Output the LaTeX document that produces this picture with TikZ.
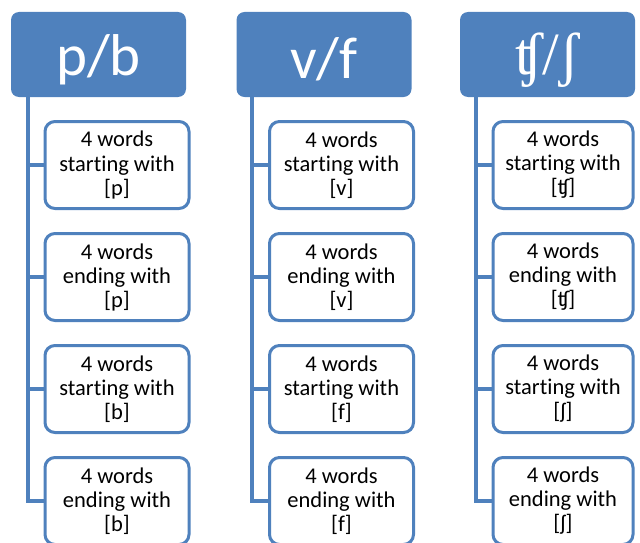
\documentclass[tikz,border=0pt]{standalone}
\usepackage{fontspec}
\setmainfont[Ligatures={NoCommon}]{Carlito}
\newfontfamily\ipaserif{Liberation Serif}
\definecolor{hblue}{HTML}{4F81BD}
\begin{document}
\begin{tikzpicture}[x=1pt,y=-1pt,
  header/.style={fill=hblue, rounded corners=8pt, minimum width=175pt, minimum height=85pt,
    text=white, font=\fontsize{59}{64}\selectfont, inner sep=0pt},
  item/.style={draw=hblue, line width=3pt, rounded corners=10pt, fill=white,
    minimum width=144pt, minimum height=87pt, align=center,
    font=\fontsize{22.5}{24}\selectfont, inner sep=0pt},
  trunk/.style={draw=hblue, line width=4pt}]
\useasboundingbox (0,0) rectangle (640,543);

% headers
\node[header] (h1) at (98.5,54.5) {\raisebox{-5pt}[\height][\depth]{p/b}};
\node[header] (h2) at (324,54.5) {\raisebox{-5pt}[\height][\depth]{v/f}};
\node[header] (h3) at (547.5,54.5) {\raisebox{-6pt}[\height][\depth]{\ipaserif\fontsize{60}{64}\selectfont ʧ/ʃ}};

% trunk coordinates
\coordinate (t1) at (27.5,96);
\coordinate (t2) at (251.5,96);
\coordinate (t3) at (476,96);

% column 1
\node[item] (a1) at (117,165) {4 words\\starting with\\{[}p{]}};
\node[item] (a2) at (117,277) {4 words\\ending with\\{[}p{]}};
\node[item] (a3) at (117,389) {4 words\\starting with\\{[}b{]}};
\node[item] (a4) at (117,501) {4 words\\ending with\\{[}b{]}};

% column 2
\node[item] (b1) at (341.5,165) {4 words\\starting with\\{[}v{]}};
\node[item] (b2) at (341.5,277) {4 words\\ending with\\{[}v{]}};
\node[item] (b3) at (341.5,389) {4 words\\starting with\\{[}f{]}};
\node[item] (b4) at (341.5,501) {4 words\\ending with\\{[}f{]}};

% column 3
\node[item, minimum width=140pt] (c1) at (563,165) {4 words\\starting with\\{[}ʧ{]}};
\node[item, minimum width=140pt] (c2) at (563,277) {4 words\\ending with\\{[}ʧ{]}};
\node[item, minimum width=140pt] (c3) at (563,389) {4 words\\starting with\\{[}ʃ{]}};
\node[item, minimum width=140pt] (c4) at (563,501) {4 words\\ending with\\{[}ʃ{]}};

% connectors
\draw[trunk] (t1) -- (t1 |- a4.west) -- (a4.west);
\draw[trunk] (t1 |- a1.west) -- (a1.west);
\draw[trunk] (t1 |- a2.west) -- (a2.west);
\draw[trunk] (t1 |- a3.west) -- (a3.west);

\draw[trunk] (t2) -- (t2 |- b4.west) -- (b4.west);
\draw[trunk] (t2 |- b1.west) -- (b1.west);
\draw[trunk] (t2 |- b2.west) -- (b2.west);
\draw[trunk] (t2 |- b3.west) -- (b3.west);

\draw[trunk] (t3) -- (t3 |- c4.west) -- (c4.west);
\draw[trunk] (t3 |- c1.west) -- (c1.west);
\draw[trunk] (t3 |- c2.west) -- (c2.west);
\draw[trunk] (t3 |- c3.west) -- (c3.west);
\end{tikzpicture}
\end{document}
